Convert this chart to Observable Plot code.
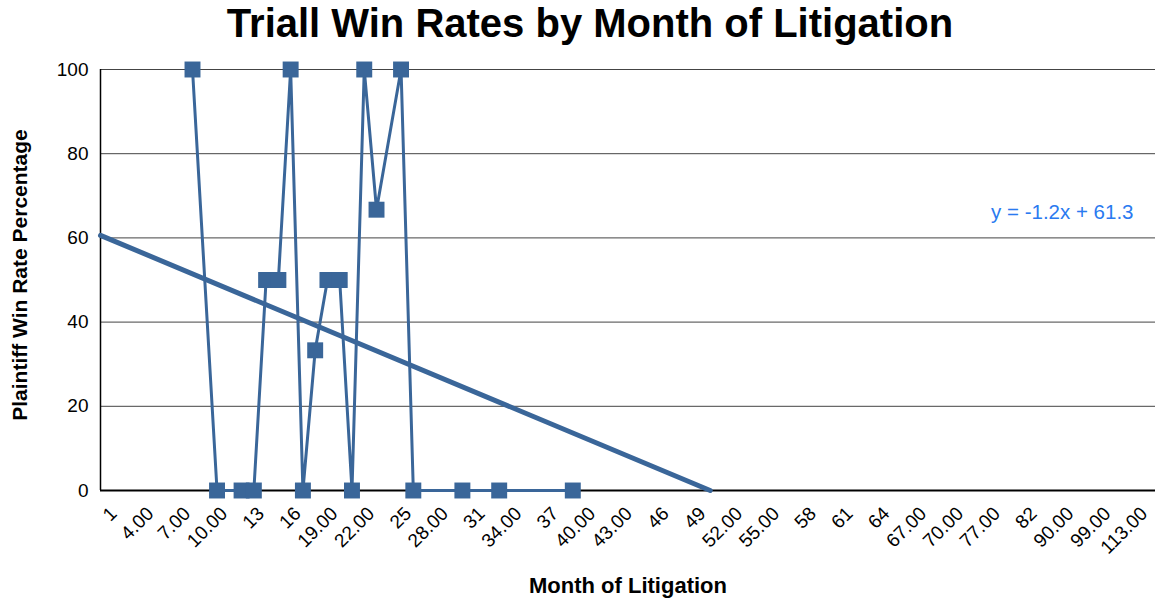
<!DOCTYPE html>
<html>
<head>
<meta charset="utf-8">
<script src="https://cdn.jsdelivr.net/npm/d3@7"></script>
<script src="https://cdn.jsdelivr.net/npm/@observablehq/plot@0.6"></script>
<style>
  html, body { margin: 0; padding: 0; background: #fff; }
  #wrap { position: relative; width: 1155px; height: 601px; overflow: hidden; font-family: "Liberation Sans", Arial, sans-serif; }
  #title { position: absolute; left: 0; top: 0px; width: 1180px; text-align: center; font-weight: bold; font-size: 40px; line-height: 46px; color: #000; }
  #chart { position: absolute; left: 0; top: 0; }
</style>
</head>
<body>
<div id="wrap">
  <div id="chart"></div>
  <div id="title">Triall Win Rates by Month of Litigation</div>
</div>
<script>
// ---- data ----
const months   = [8, 10, 12, 13, 14, 15, 16, 17, 18, 19, 20, 21, 22, 23, 25, 26, 30, 33, 39];
const winRates = [100, 0, 0, 0, 50, 50, 100, 0, 33.3, 50, 50, 0, 100, 66.7, 100, 0, 0, 0, 0];
const tickLabels = ["1", "4.00", "7.00", "10.00", "13", "16", "19.00", "22.00", "25", "28.00",
  "31", "34.00", "37", "40.00", "43.00", "46", "49", "52.00", "55.00", "58", "61", "64",
  "67.00", "70.00", "77.00", "82", "90.00", "99.00", "113.00"];
const yTicks = [0, 20, 40, 60, 80, 100];
const categoryCount = 86;
// trendline end points (category position, percentage)
const trendX = [0.5, 50.2];
const trendY = [60.6, 0];
const trendText = "y = -1.2x + 61.3";

const color = "#3a6699";
const points = months.map((m, i) => ({x: m, y: winRates[i]}));
const trend = trendX.map((x, i) => ({x, y: trendY[i]}));
const tickPos = tickLabels.map((_, i) => i * 3 + 1);
const labelOf = new Map(tickPos.map((p, i) => [p, tickLabels[i]]));

const chart = Plot.plot({
  width: 1155,
  height: 601,
  marginTop: 69,
  marginBottom: 111,
  marginLeft: 100,
  marginRight: 0,
  style: {fontFamily: "'Liberation Sans', Arial, sans-serif", background: "white", color: "#000"},
  x: {domain: [0.5, categoryCount + 0.5]},
  y: {domain: [0, 100]},
  marks: [
    Plot.ruleY(yTicks.filter(d => d > 0), {stroke: "#444", strokeWidth: 1}),
    Plot.axisY({ticks: yTicks, tickSize: 0, tickPadding: 12, fontSize: 19, label: null}),
    Plot.axisX({ticks: tickPos, tickFormat: d => labelOf.get(d), tickSize: 0, tickRotate: -45,
      tickPadding: 15, fontSize: 19, dx: 7, dy: 5, label: null}),
    Plot.ruleX([0.5], {y1: 0, y2: 100, stroke: "#000", strokeWidth: 1.5}),
    Plot.ruleY([0], {stroke: "#000", strokeWidth: 2}),
    Plot.line(points, {x: "x", y: "y", stroke: color, strokeWidth: 3}),
    Plot.line(trend, {x: "x", y: "y", stroke: color, strokeWidth: 5}),
    Plot.dot(points, {x: "x", y: "y", symbol: "square", r: 9, fill: color, stroke: null}),
    Plot.text([trendText], {frameAnchor: "top-right", dx: -22, dy: 143, text: d => d,
      fill: "#2a7af0", fontSize: 20.5, textAnchor: "end", lineAnchor: "middle"}),
    Plot.text(["Month of Litigation"], {frameAnchor: "bottom", dy: 95, text: d => d,
      fontSize: 22, fontWeight: "bold", fill: "#000", lineAnchor: "middle"}),
    Plot.text(["Plaintiff Win Rate Percentage"], {frameAnchor: "left", dx: -80, dy: -5, rotate: -90,
      text: d => d, fontSize: 21, fontWeight: "bold", fill: "#000", textAnchor: "middle", lineAnchor: "middle"})
  ]
});
document.getElementById("chart").appendChild(chart);
</script>
</body>
</html>
